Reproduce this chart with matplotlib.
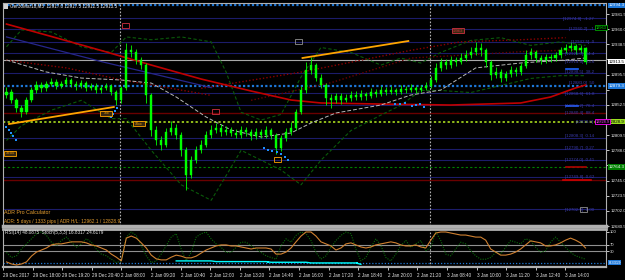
import matplotlib
matplotlib.use('Agg')
import matplotlib.pyplot as plt
from matplotlib.patches import Rectangle

# ---- data (Ger30Mar18, M5, compressed bars) ----
first_open = 12866
closes = [12871, 12859, 12848, 12842, 12859, 12874, 12881, 12876, 12882, 12885,
          12879, 12882, 12888, 12882, 12879, 12884, 12876, 12879, 12874, 12876,
          12879, 12871, 12859, 12876, 12930, 12928, 12916, 12909, 12867, 12817,
          12803, 12796, 12814, 12820, 12810, 12788, 12753, 12774, 12788, 12796,
          12810, 12817, 12820, 12814, 12817, 12813, 12810, 12817, 12814, 12808,
          12814, 12810, 12817, 12810, 12791, 12805, 12814, 12820, 12842, 12874,
          12902, 12909, 12891, 12881, 12862, 12859, 12865, 12859, 12862, 12866,
          12864, 12868, 12865, 12871, 12868, 12874, 12871, 12874, 12871, 12875,
          12874, 12876, 12874, 12876, 12879, 12888, 12905, 12913, 12909, 12916,
          12913, 12919, 12923, 12928, 12933, 12930, 12913, 12895, 12899, 12891,
          12896, 12902, 12899, 12908, 12923, 12928, 12919, 12916, 12920, 12919,
          12923, 12930, 12933, 12936, 12930, 12933, 12913.5]
highs = [12878, 12875, 12862, 12852, 12863, 12878, 12886, 12885, 12887, 12890,
         12889, 12886, 12892, 12891, 12886, 12888, 12887, 12884, 12883, 12881,
         12884, 12882, 12874, 12880, 12941, 12938, 12932, 12920, 12912, 12870,
         12822, 12808, 12820, 12830, 12826, 12814, 12792, 12780, 12794, 12803,
         12815, 12824, 12827, 12825, 12822, 12821, 12818, 12822, 12821, 12818,
         12819, 12818, 12822, 12820, 12813, 12810, 12819, 12828, 12846, 12880,
         12914, 12920, 12912, 12896, 12884, 12868, 12870, 12869, 12868, 12872,
         12872, 12873, 12871, 12876, 12875, 12880, 12878, 12879, 12877, 12881,
         12880, 12882, 12880, 12881, 12885, 12893, 12912, 12919, 12918, 12922,
         12920, 12926, 12930, 12935, 12942, 12940, 12933, 12916, 12906, 12903,
         12901, 12908, 12906, 12912, 12930, 12934, 12931, 12923, 12925, 12925,
         12928, 12935, 12939, 12942, 12939, 12938, 12935]
lows = [12862, 12855, 12842, 12836, 12839, 12856, 12870, 12871, 12872, 12879,
        12875, 12876, 12879, 12878, 12874, 12876, 12872, 12873, 12869, 12870,
        12873, 12866, 12852, 12855, 12874, 12920, 12911, 12903, 12855, 12808,
        12795, 12788, 12792, 12810, 12804, 12780, 12731, 12748, 12770, 12784,
        12792, 12806, 12812, 12809, 12810, 12808, 12805, 12806, 12809, 12803,
        12804, 12806, 12806, 12804, 12783, 12787, 12801, 12810, 12817, 12839,
        12870, 12896, 12886, 12876, 12852, 12848, 12855, 12854, 12856, 12858,
        12859, 12860, 12860, 12862, 12864, 12865, 12866, 12868, 12867, 12868,
        12870, 12871, 12870, 12871, 12873, 12876, 12885, 12900, 12904, 12905,
        12908, 12910, 12915, 12919, 12924, 12922, 12906, 12888, 12890, 12885,
        12886, 12892, 12894, 12895, 12905, 12918, 12914, 12911, 12912, 12914,
        12915, 12919, 12926, 12929, 12925, 12926, 12910]

# slow moving average (red) and fast one (grey dashed), knots: bar index / price
ma_slow_i = [0, 9, 19, 29, 39, 49, 57, 63, 75, 89, 103, 109, 114, 116]
ma_slow_p = [12967.3, 12949.6, 12929.7, 12909.1, 12889.2, 12872.2, 12859.4,
             12855.2, 12853.7, 12852.3, 12855.2, 12863.7, 12876.5, 12880.7]
ma_fast_i = [0, 8, 15, 23, 29, 34, 40, 45, 51, 57, 61, 66, 75, 81, 87, 94, 103, 112, 116]
ma_fast_p = [12916.2, 12899.2, 12890.6, 12887.8, 12883.5, 12863.7, 12835.3, 12816.8,
             12806.9, 12812.6, 12826.8, 12841.0, 12852.3, 12866.5, 12873.6, 12905.0,
             12912.0, 12916.2, 12919.1]
# envelope bands (dark green dashed)
band_i = [0, 3, 9, 15, 21, 24, 29, 35, 41, 44, 47, 51, 55, 59, 63, 69, 75, 79, 83, 87, 93, 99, 105, 111, 116]
band_up = [12935, 12959, 12956, 12935, 12927, 12949, 12945, 12949, 12942, 12899,
           12842, 12831, 12839, 12892, 12934, 12927, 12909, 12919, 12912, 12927,
           12944, 12948, 12937, 12942, 12937]
band_lo = [12802, 12823, 12845, 12859, 12833, 12833, 12788, 12739, 12717, 12752,
           12788, 12774, 12760, 12739, 12774, 12816, 12838, 12852, 12873, 12873,
           12870, 12880, 12890, 12894, 12894]
# dotted red channels
red_a_i = [0, 12, 23, 33, 41]
red_a_p = [12916, 12905, 12888, 12876, 12866]
red_b_i = [39, 59, 81, 91, 103, 112]
red_b_p = [12876, 12899, 12930, 12942, 12945, 12948]
red_c_i = [49, 65, 81, 91, 103, 115]
red_c_p = [12859, 12884, 12919, 12923, 12928, 12931]
navy_i = [0, 19, 41]
navy_p = [12949, 12914, 12877]

# trendlines (orange)
tl1_i = [0.5, 21.5]
tl1_p = [12825.3, 12849.5]
tl2_i = [59.3, 80.5]
tl2_p = [12919.1, 12943.2]

# parabolic SAR dots
sar_i = [-0.1, 0.5, 0.9, 1.3, 1.9, 20.9, 21.3, 21.7, 22.1, 51.5, 52.3, 53.1, 54.1,
         54.9, 55.7, 56.3, 77.9, 78.9, 79.9, 81.3, 82.1, 82.9, 83.7]
sar_p = [12821.1, 12816.8, 12812.6, 12808.3, 12802.6, 12835.3, 12839.5, 12843.8,
         12848.1, 12791.3, 12788.4, 12787.0, 12785.6, 12782.7, 12778.5, 12774.2,
         12853.7, 12853.7, 12855.2, 12850.9, 12852.3, 12853.7, 12849.5]

# horizontal levels
navy_levels = [12975.9, 12960.2, 12941.8, 12926.2, 12897.8, 12869.0, 12852.3,
               12805.5, 12790.0, 12774.2, 12750.0, 12704.6]
grey_level = 12916.2
blue_levels = [12994.3, 12879.3]
darkred_levels = [12841.0, 12746.0]
adr_low = 12828.9
adr_high = 12962.1
green_level = 12764.3

fib_p = [12974.8, 12960.2, 12942.5, 12925.0, 12914.0, 12898.5, 12883.0, 12868.6,
         12851.2, 12840.4, 12828.9, 12808.3, 12790.7, 12774.0, 12749.8, 12702.9]
fib_txt = ['[12974.8]  -1.27', '[12960.2]  -1', '[12942.5]  0', '[12925.0]  14.4',
           '[12914.0]  23.6', '[12898.5]  38.2', '[12883.0]  50', '[12868.6]  61.8',
           '[12851.2]  76.4', '[12840.4]  88.4', '[12828.9]', '[12808.3]  0.14',
           '[12790.7]  0.27', '[12774.0]  0.41', '[12749.8]  0.62', '[12702.9]  1.00']

# price scale; the terminal hides the ones under a highlighted label
price_ticks = [12680.5, 12702.0, 12723.5, 12745.0, 12766.5, 12788.0, 12809.5, 12831.0,
               12852.5, 12874.0, 12895.5, 12917.0, 12938.5, 12960.0, 12981.5]
hidden_ticks = [12766.5, 12831.0, 12874.0, 12917.0]

rsi = [12, 6, 3, 6, 12, 29, 41, 47, 53, 62, 65, 65, 68, 71, 71, 71, 68, 62, 59, 53,
       47, 35, 26, 15, 82, 88, 82, 68, 53, 32, 21, 18, 18, 26, 32, 29, 24, 24, 29, 38,
       47, 53, 59, 62, 62, 59, 59, 56, 53, 50, 53, 53, 53, 50, 35, 35, 41, 53, 71, 88,
       100, 100, 88, 71, 65, 59, 47, 53, 65, 68, 62, 56, 53, 56, 62, 65, 68, 71, 68, 62,
       59, 59, 62, 56, 53, 76, 97, 100, 100, 97, 94, 91, 91, 88, 85, 85, 76, 50, 41, 32,
       32, 35, 41, 50, 62, 74, 71, 68, 59, 59, 62, 68, 76, 82, 76, 68, 53]
stoch = [40, 25, 30, 50, 65, 80, 95, 100, 90, 70, 60, 75, 85, 70, 55, 65, 80, 70, 50, 35,
         30, 20, 10, 15, 85, 100, 90, 60, 30, 10, 15, 35, 60, 85, 95, 50, 15, 40, 85, 95,
         100, 80, 65, 55, 40, 40, 55, 70, 70, 60, 50, 40, 30, 25, 20, 60, 80, 70, 90, 100,
         95, 75, 40, 20, 30, 55, 75, 90, 100, 95, 50, 15, 25, 55, 80, 60, 25, 15, 35, 60,
         75, 55, 65, 75, 45, 55, 100, 75, 35, 30, 50, 70, 65, 45, 30, 20, 20, 25, 40, 35,
         55, 75, 70, 65, 80, 75, 55, 40, 45, 70, 85, 70, 55, 40, 30, 25, 20]
cyan_i = [34, 41, 42, 52, 53, 60, 61, 70, 71]
cyan_v = [15, 15, 13, 13, 11, 11, 9, 9, 5]

time_labels = ['29 Dec 2017', '29 Dec 18:00', '29 Dec 19:20', '29 Dec 20:40', '2 Jan 08:00',
               '2 Jan 09:20', '2 Jan 10:40', '2 Jan 12:00', '2 Jan 13:20', '2 Jan 14:40',
               '2 Jan 16:00', '2 Jan 17:20', '2 Jan 18:40', '2 Jan 20:00', '2 Jan 21:20',
               '3 Jan 08:40', '3 Jan 10:00', '3 Jan 11:20', '3 Jan 12:40', '3 Jan 14:00']

plt.rcParams['font.family'] = ['Liberation Sans', 'DejaVu Sans']

W, H = 625, 280
fig = plt.figure(figsize=(W / 100, H / 100), dpi=100, facecolor='black')

def fx(px):
    return px / W

def fy(py):
    return 1 - py / H

ax = fig.add_axes([fx(3), fy(226), fx(603), 223 / H], facecolor='black')
ax2 = fig.add_axes([fx(3), fy(267), fx(603), 38 / H], facecolor='black', sharex=ax)

n = len(closes)
opens = [first_open] + closes[:-1]
xs = list(range(n))

# horizontal levels
for lv in navy_levels:
    ax.axhline(lv, color='#1c1c6a', lw=0.8, zorder=1)
ax.axhline(grey_level, color='#a8a8a8', lw=0.8, zorder=1)
for lv in darkred_levels:
    ax.axhline(lv, color='#6a0000', lw=1.0, zorder=1)
for lv in blue_levels:
    ax.axhline(lv, color='#1e78d8', lw=1.6, ls=(0, (1, 1)), zorder=2)
ax.axhline(adr_low, color='#b8f020', lw=1.1, ls=(0, (1.5, 1.5)), zorder=2)
ax.axhline(green_level, color='#008000', lw=0.8, ls=(0, (2, 2)), zorder=1)

# session separators
for sx in [22.8, 84.8]:
    ax.axvline(sx, color='#b0b0b0', lw=0.8, ls=(0, (1.5, 1.5)), zorder=2)
    ax2.axvline(sx, color='#b0b0b0', lw=0.8, ls=(0, (1.5, 1.5)), zorder=2)

# indicator lines
ax.plot(band_i, band_up, color='#0a5a0a', lw=0.8, ls=(0, (3, 2)), zorder=2)
ax.plot(band_i, band_lo, color='#0a5a0a', lw=0.8, ls=(0, (3, 2)), zorder=2)
ax.plot(red_a_i, red_a_p, color='#8b0000', lw=1.0, ls=(0, (1, 1.5)), zorder=2)
ax.plot(red_b_i, red_b_p, color='#8b0000', lw=1.0, ls=(0, (1, 1.5)), zorder=2)
ax.plot(red_c_i, red_c_p, color='#6a0000', lw=1.0, ls=(0, (1, 1.5)), zorder=2)
ax.plot(navy_i, navy_p, color='#26268a', lw=0.9, zorder=2)
ax.plot(ma_slow_i, ma_slow_p, color='#c00000', lw=1.2, zorder=3)
ax.plot(ma_fast_i, ma_fast_p, color='#b8b8b8', lw=0.7, ls=(0, (4, 2)), zorder=3)

# candles
for x, o, c, h, l in zip(xs, opens, closes, highs, lows):
    ax.vlines(x, l, h, color='#00ff00', lw=0.6, zorder=4)
    ax.add_patch(Rectangle((x - 0.22, min(o, c)), 0.44, max(abs(c - o), 0.8),
                           facecolor='#00ff00', edgecolor='#00ff00', lw=0.3, zorder=4))

ax.plot(tl1_i, tl1_p, color='#ffa500', lw=1.3, zorder=5)
ax.plot(tl2_i, tl2_p, color='#ffa500', lw=1.3, zorder=5)
ax.scatter(sar_i, sar_p, s=1.6, color='#1e90ff', marker='s', lw=0, zorder=5)

# small segments near the right edge
ax.plot([112, 114.5], [12904, 12904], color='#1e64ff', lw=1.2, zorder=5)
ax.plot([112, 114.5], [12851, 12851], color='#1e64ff', lw=1.2, zorder=5)
ax.plot([112, 116], [12765, 12765], color='#b00000', lw=1.2, zorder=5)
ax.plot([111.5, 117], [12746, 12746], color='#d00000', lw=1.2, zorder=5)

# fibo labels, right-aligned just before the object labels
for p, t in zip(fib_p, fib_txt):
    ax.text(117.7, p, t, color='#3a3aa8', fontsize=3.2, va='center', ha='right', zorder=6)

# small object boxes
boxes = [(-0.5, 12780, '10:05', '#ffa500'), (18.8, 12837, '1xx', '#ffa500'),
         (23.1, 12962, '', '#d03040'), (25.3, 12822, '10xx', '#ffa500'),
         (41.1, 12840, '', '#d03040'), (53.5, 12772, '', '#ffa500'),
         (57.8, 12939, '', '#909090'), (89.3, 12954, '12963', '#d03040'),
         (114.8, 12700, '', '#909090')]
for bx, by, bt, bc in boxes:
    wdt = 2.4 if bt else 1.4
    ax.add_patch(Rectangle((bx, by), wdt, 7, facecolor='#3a2a10' if bt else 'none',
                           edgecolor=bc, lw=0.6, zorder=6))
    if bt:
        ax.text(bx + wdt / 2, by + 3.5, bt, color=bc, fontsize=2.6, ha='center',
                va='center', zorder=7)

ax.set_xlim(-0.5, 120.1)
ax.set_ylim(12680.5, 12997.2)
ax.yaxis.tick_right()
ax.set_yticks(price_ticks)
ax.set_yticklabels(['' if v in hidden_ticks else '%.1f' % v for v in price_ticks])
ax.tick_params(axis='y', colors='#e8e8e8', labelsize=3.2, length=2, width=0.6, pad=1)
ax.tick_params(axis='x', bottom=False, labelbottom=False)
for s in ax.spines.values():
    s.set_color('#b0b0b0')
    s.set_linewidth(0.8)
ax.spines['bottom'].set_linewidth(2.5)

# highlighted price labels on the axis
hl = [(12994.3, '12994.3', '#1e78d8', 'white'), (12913.5, '12913.5', 'white', 'black'),
      (12879.3, '12879.3', '#1e78d8', 'white'), (adr_low, '12828.9', '#9ade20', 'black'),
      (green_level, '12764.3', '#008000', 'white')]
for p, t, bg, fg in hl:
    ax.text(1.004, p, t, transform=ax.get_yaxis_transform(), fontsize=3.2, color=fg,
            va='center', ha='left', zorder=8, clip_on=False,
            bbox=dict(boxstyle='square,pad=0.12', fc=bg, ec=bg, lw=0))
ax.text(118.0, adr_high, '12963', fontsize=2.8, color='#00e000', va='center', ha='left',
        zorder=8, clip_on=False,
        bbox=dict(boxstyle='square,pad=0.2', fc='black', ec='#00c000', lw=0.5))
ax.text(118.0, adr_low, '12828.9', fontsize=2.8, color='#ff40ff', va='center', ha='left',
        zorder=8, clip_on=False,
        bbox=dict(boxstyle='square,pad=0.2', fc='black', ec='#ff00ff', lw=0.6))

# header and ADR text
fig.text(fx(10), fy(6), 'Ger30Mar18,M5  12917.0 12917.5 12912.5 12913.5', color='#f0f0f0',
         fontsize=3.3, va='center', ha='left')
fig.add_artist(Rectangle((fx(4), fy(9)), fx(4), 5 / H, facecolor='#d0d0d0', edgecolor='none'))
fig.text(fx(4), fy(213), 'ADR Pro Calculator', color='#e8a030', fontsize=3.8, va='center')
fig.text(fx(4), fy(221), 'ADR: 5 days / 1333 pips | ADR H/L: 12962.1 / 12828.9',
         color='#e8a030', fontsize=3.4, va='center')

# RSI / Stoch subwindow
ax2.axhline(63, color='#909090', lw=0.8)
ax2.axhline(43, color='#909090', lw=0.8)
ax2.axhline(9, color='#1e78d8', lw=0.9, ls=(0, (1, 1.5)))
ax2.plot(xs, stoch, color='#0a6a0a', lw=0.8, ls=(0, (1, 1.2)))
ax2.plot(xs, rsi, color='#d08030', lw=0.8)
ax2.plot(cyan_i, cyan_v, color='#00ffff', lw=1.0)
ax2.scatter([52.3, 70.3], [13, 9], s=3, marker='s', color='#00ffff', lw=0)
ax2.set_ylim(-2.9, 108.8)
ax2.yaxis.tick_right()
ax2.set_yticks([100, 63, 43])
ax2.set_yticklabels(['100', '70', '30'])
ax2.tick_params(axis='y', colors='#e8e8e8', labelsize=3.0, length=2, width=0.6, pad=1)
ax2.text(1.004, 9, '8.3319', transform=ax2.get_yaxis_transform(), fontsize=3.0,
         color='white', va='center', ha='left', clip_on=False,
         bbox=dict(boxstyle='square,pad=0.12', fc='#1e78d8', ec='#1e78d8', lw=0))
ax2.text(0.004, 0.9, 'RSI(14) 48.0875  Stoch(5,3,3) 16.8317 24.6179', transform=ax2.transAxes,
         color='#e8e8e8', fontsize=3.3, va='center', ha='left')
tick_pos = [-0.7 + 5.93 * k for k in range(len(time_labels))]
ax2.set_xticks(tick_pos)
ax2.set_xticklabels(time_labels, ha='left')
ax2.tick_params(axis='x', colors='#e8e8e8', labelsize=3.3, length=2, width=0.6, pad=2)
for s in ax2.spines.values():
    s.set_color('#b0b0b0')
    s.set_linewidth(0.8)
ax2.spines['top'].set_linewidth(2.0)
ax2.spines['bottom'].set_linewidth(1.6)

fig.savefig('out.png', dpi=100, facecolor='black')
